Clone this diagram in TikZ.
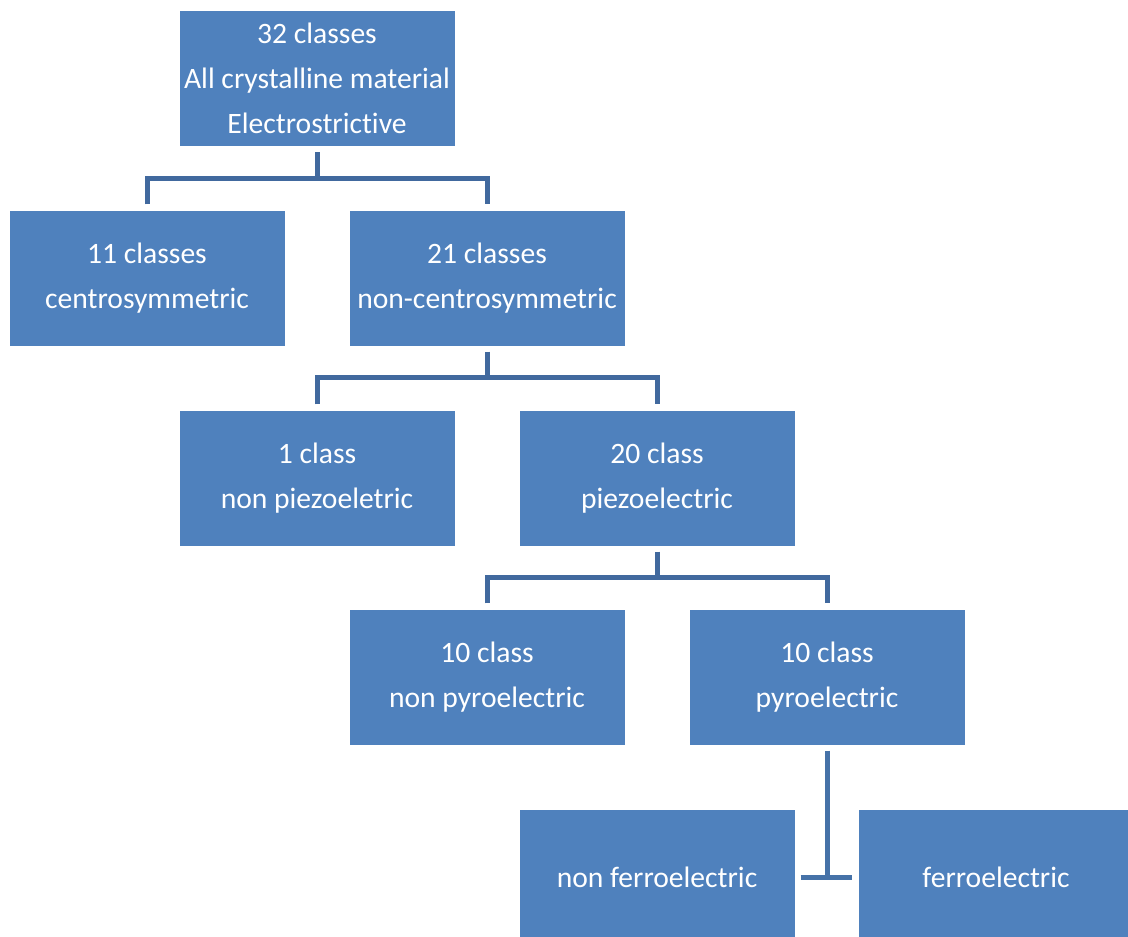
\documentclass[tikz,border=0pt]{standalone}
\usepackage{fontspec}
\setmainfont[RawFeature={-liga;-dlig}]{Carlito}
\definecolor{boxblue}{HTML}{4F81BD}
\definecolor{linkblue}{HTML}{41699E}
\definecolor{linkblueb}{HTML}{4672A8}
\begin{document}
\begin{tikzpicture}[x=1pt,y=-1pt,
  cls/.style={fill=boxblue, draw=none, minimum width=275pt, minimum height=135pt,
    inner sep=0pt, align=center, text=white,
    font=\fontsize{29.6}{45}\selectfont},
  link/.style={draw=linkblue, line width=5pt},
  linkb/.style={draw=linkblueb, line width=5pt}]
\useasboundingbox (0,0) rectangle (1128,937);
\clip (0,0) rectangle (1128,937);
\node[cls] (top) at (317,78.5) {32 classes\\All crystalline material\\Electrostrictive};
\node[cls] (c11) at (147,278) {11 classes\\centrosymmetric};
\node[cls] (c21) at (487,278) {21 classes\\non-centrosymmetric};
\node[cls] (c1) at (317,478) {1 class\\non piezoeletric};
\node[cls] (c20) at (657,478) {20 class\\piezoelectric};
\node[cls] (np) at (487,677) {10 class\\non pyroelectric};
\node[cls] (p) at (827,677) {10 class\\pyroelectric};
\node[cls] (nf) at (657,877) {non ferroelectric};
\node[cls] (f) at (996,877) {ferroelectric};
\draw[link] ([yshift=-6pt]top.south) -- ++(0,26) coordinate (j1);
\draw[link] ([yshift=6pt]c11.north) |- (j1) -| ([yshift=6pt]c21.north);
\draw[link] ([yshift=-6pt]c21.south) -- ++(0,26) coordinate (j2);
\draw[link] ([yshift=6pt]c1.north) |- (j2) -| ([yshift=6pt]c20.north);
\draw[link] ([yshift=-6pt]c20.south) -- ++(0,26) coordinate (j3);
\draw[link] ([yshift=6pt]np.north) |- (j3) -| ([yshift=6pt]p.north);
\draw[linkb] ([yshift=-6pt]p.south) -- (p.south |- nf.east);
\draw[linkb] ([xshift=6pt]nf.east) -- ([xshift=-6pt]f.west);
\end{tikzpicture}
\end{document}
